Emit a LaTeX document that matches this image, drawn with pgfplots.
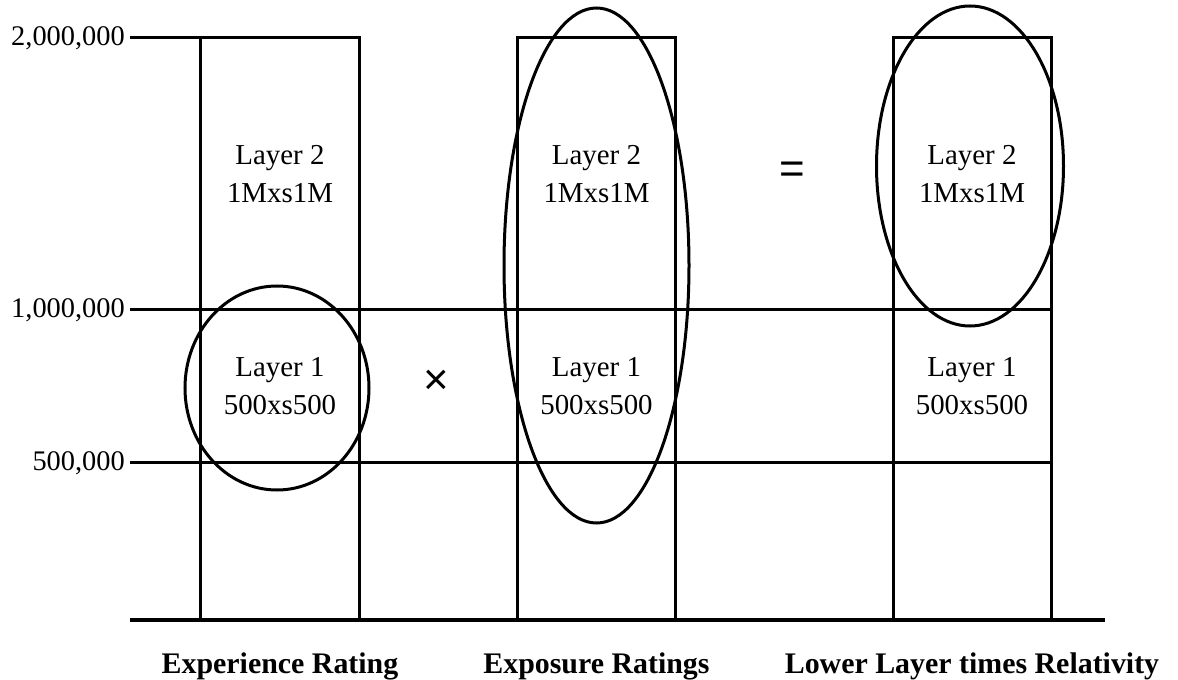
\documentclass[border=0pt]{standalone}
\usepackage{fontspec}
\setmainfont{Liberation Serif}
\newfontfamily\symfont{Liberation Sans}
\usepackage{pgfplots}
\pgfplotsset{compat=1.18}
\begin{document}
\begin{tikzpicture}
\begin{axis}[
  x=1bp, y=1bp,
  xmin=130, xmax=1105, ymin=0, ymax=582,
  clip=false,
  axis line style={draw=none},
  xtick={280,596.5,972},
  xticklabels={Experience Rating, Exposure Ratings, Lower Layer times Relativity},
  xticklabel style={font=\fontsize{30}{34}\selectfont\bfseries, anchor=base, inner sep=0pt, yshift=-53bp},
  ytick={157,310,582},
  yticklabels={{500,000},{1,000,000},{2,000,000}},
  yticklabel style={font=\fontsize{28.5}{32}\selectfont, inner sep=0pt, xshift=-5bp},
  major tick length=0pt,
  tick style={draw=none},
]
% page frame, 1 unit = 1 px of the reference
\path (axis cs:0,620) rectangle (axis cs:1178,-58);

% the three layer columns, up to 2,000,000
\addplot[ybar, bar width=158bp, draw=black, fill=none, line width=3bp]
  coordinates {(280,582) (596.5,582) (972,582)};

% layer boundaries
\addplot[line width=3bp] coordinates {(130,582) (201,582)};
\addplot[line width=3bp] coordinates {(130,310) (1051,310)};
\addplot[line width=3bp] coordinates {(130,157) (1051,157)};
\addplot[line width=4.5bp] coordinates {(130,0) (1105,0)};

% ellipses
\draw[line width=3bp] (axis cs:277,232) ellipse [x radius=92bp, y radius=102bp];
\draw[line width=3bp] (axis cs:596.5,354.5) ellipse [x radius=92.5bp, y radius=257.5bp];
\draw[line width=3bp] (axis cs:970,454) ellipse [x radius=93.5bp, y radius=160bp];

% layer texts
\begin{scope}[every node/.style={font=\fontsize{29}{32}\selectfont, anchor=base, inner sep=0pt}]
\node at (axis cs:280,455) {Layer 2};
\node at (axis cs:280,417) {1Mxs1M};
\node at (axis cs:280,243) {Layer 1};
\node at (axis cs:280,205) {500xs500};
\node at (axis cs:596.5,455) {Layer 2};
\node at (axis cs:596.5,417) {1Mxs1M};
\node at (axis cs:596.5,243) {Layer 1};
\node at (axis cs:596.5,205) {500xs500};
\node at (axis cs:972,455) {Layer 2};
\node at (axis cs:972,417) {1Mxs1M};
\node at (axis cs:972,243) {Layer 1};
\node at (axis cs:972,205) {500xs500};
\end{scope}

% operators
\node[font=\symfont\fontsize{44}{48}\selectfont, inner sep=0pt] at (axis cs:436,238) {×};
\node[font=\symfont\fontsize{44}{48}\selectfont, inner sep=0pt] at (axis cs:792,447) {=};
\end{axis}
\end{tikzpicture}
\end{document}
